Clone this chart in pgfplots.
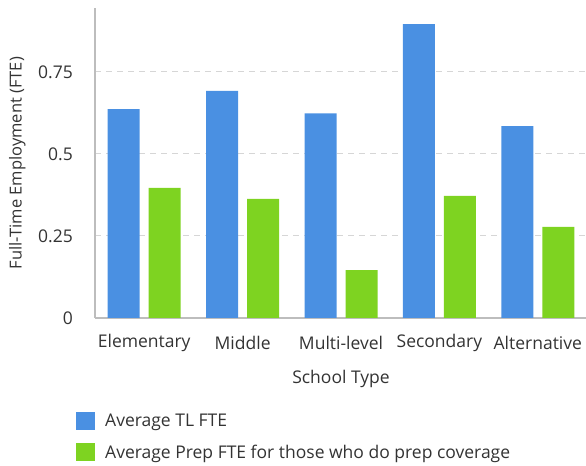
\documentclass[border=0pt]{standalone}
\usepackage{pgfplots}
\pgfplotsset{compat=1.18}
\usepackage{fontspec}
\setmainfont{Open Sans}
\definecolor{tlblue}{HTML}{4A90E2}
\definecolor{prepgreen}{HTML}{7ED321}
\definecolor{gridc}{HTML}{D6D6D6}
\definecolor{axc}{HTML}{BDBDBD}
\definecolor{txt}{HTML}{333333}
\begin{document}
\begin{tikzpicture}[x=1bp,y=1bp]
\path[use as bounding box] (0,0) rectangle (586,466);
\begin{axis}[
  at={(95bp,148bp)}, anchor=south west,
  width=492bp, height=310bp, scale only axis,
  xmin=-0.5, xmax=4.5, ymin=0, ymax=0.945,
  ybar=9bp, bar width=32bp,
  axis x line*=bottom, axis y line*=left,
  axis line style={axc, line width=1.2bp, -},
  xtick={0,1,2,3,4},
  xticklabels={Elementary,Middle,Multi-level,Secondary,Alternative},
  ytick={0,0.25,0.5,0.75},
  yticklabels={0,0.25,0.5,0.75},
  major tick length=0pt,
  ymajorgrids,
  grid style={gridc, dashed, line width=1bp, dash pattern=on 6bp off 5bp},
  tick label style={font=\fontsize{17.5bp}{19bp}\selectfont, text=txt},
  yticklabel style={anchor=east, inner sep=0pt, xshift=-22bp},
  xticklabel style={anchor=center, inner sep=0pt, yshift=-25bp},
  xlabel={School Type},
  ylabel={Full-Time Employment (FTE)},
  xlabel style={font=\fontsize{17.5bp}{19bp}\selectfont, text=txt, at={(axis description cs:0.5,-0.197)}, anchor=center},
  ylabel style={font=\fontsize{16.5bp}{18bp}\selectfont, text=txt, at={(axis description cs:-0.158,0.5)}, anchor=center},
  legend image code/.code={\fill[#1] (0bp,-9bp) rectangle (19bp,9bp);},
  legend style={draw=none, fill=none, at={(axis description cs:-0.0386,-0.303)}, anchor=north west,
    inner sep=0pt, row sep=13bp, font=\fontsize{17.5bp}{19bp}\selectfont, text=txt,
    nodes={inner sep=0pt}, column sep=10bp},
  legend cell align=left,
  clip=false,
]
\addplot[fill=tlblue, draw=none] coordinates {(0,0.637) (1,0.692) (2,0.624) (3,0.896) (4,0.585)};
\addplot[fill=prepgreen, draw=none] coordinates {(0,0.397) (1,0.363) (2,0.146) (3,0.372) (4,0.278)};
\legend{Average TL FTE, Average Prep FTE for those who do prep coverage}
\end{axis}
\end{tikzpicture}
\end{document}
